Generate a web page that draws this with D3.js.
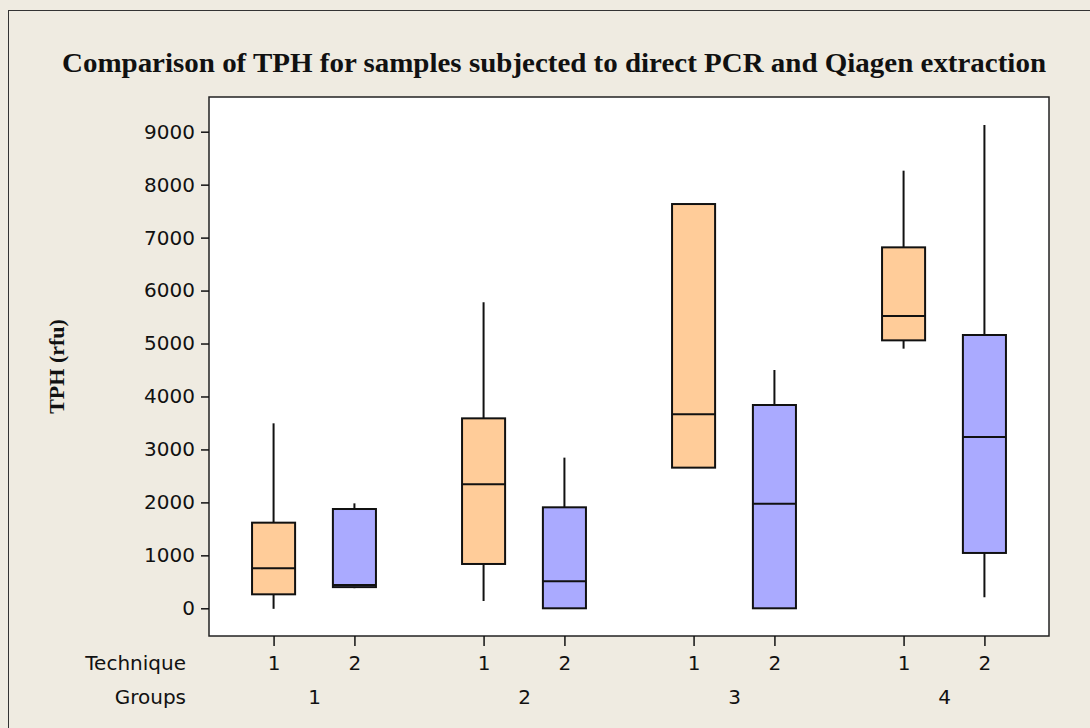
<!doctype html>
<html>
<head>
<meta charset="utf-8">
<style>
body { margin:0; background:#efebe1; }
svg { display:block; }
.tick text { font-family:"DejaVu Sans", Verdana, sans-serif; font-size:20px; fill:#111; }
.rowlab { font-family:"DejaVu Sans", Verdana, sans-serif; font-size:20px; fill:#111; }
</style>
<script src="https://d3js.org/d3.v7.min.js"></script>
</head>
<body>
<script>

// box statistics, one entry per group/technique pair
var groups      = [1, 1, 2, 2, 3, 3, 4, 4];
var techniques  = [1, 2, 1, 2, 1, 2, 1, 2];
var whiskerLow  = [-10, 380, 138, 0, 2656, 0, 4903, 208];
var q1          = [264, 400, 837, 0, 2656, 0, 5060, 1045];
var median      = [755, 440, 2341, 510, 3663, 1976, 5520, 3235];
var q3          = [1617, 1875, 3587, 1907, 7634, 3839, 6816, 5161];
var whiskerHigh = [3493, 1982, 5778, 2845, 7634, 4500, 8264, 9126];

var groupLabels = ["1", "2", "3", "4"];
var yTicks = [0, 1000, 2000, 3000, 4000, 5000, 6000, 7000, 8000, 9000];

var svgWidth = 1090, svgHeight = 728;
// plot frame edges (don't call these top/left: window.top is taken)
var plotL = 209, plotR = 1049, plotT = 97, plotB = 636;
var offset = 0.1925, halfBox = 0.1025;

var svg = d3.select("body").append("svg")
    .attr("width", svgWidth)
    .attr("height", svgHeight);

// outer border (runs off the right and bottom edge like the picture)
svg.append("rect")
    .attr("x", 8.5).attr("y", 10.5)
    .attr("width", 1200).attr("height", 900)
    .attr("fill", "#efebe1")
    .attr("stroke", "#333").attr("stroke-width", 1);

// plot area
svg.append("rect")
    .attr("x", plotL).attr("y", plotT)
    .attr("width", plotR - plotL).attr("height", plotB - plotT)
    .attr("fill", "#fff")
    .attr("stroke", "#222").attr("stroke-width", 1.5);

var x = d3.scaleLinear().domain([0.5, 4.5]).range([plotL, plotR]);
var y = d3.scaleLinear().domain([0, 9000]).range([608.3, 131.7]);

function pos(i) {
   return groups[i] + (techniques[i] == 1 ? -offset : offset);
}

// title
svg.append("text")
    .attr("x", 62).attr("y", 72)
    .attr("textLength", 984)
    .attr("lengthAdjust", "spacingAndGlyphs")
    .style("font-family", "'Liberation Serif', 'Times New Roman', serif")
    .style("font-weight", "bold")
    .style("font-size", "27px")
    .attr("fill", "#111")
    .text("Comparison of TPH for samples subjected to direct PCR and Qiagen extraction");

// y axis label
svg.append("text")
    .attr("transform", "translate(64," + ((plotT + plotB) / 2) + ") rotate(-90)")
    .attr("text-anchor", "middle")
    .style("font-family", "'Liberation Serif', 'Times New Roman', serif")
    .style("font-weight", "bold")
    .style("font-size", "22px")
    .attr("fill", "#111")
    .text("TPH (rfu)");

// y axis
var yAxis = svg.append("g")
    .attr("transform", "translate(" + plotL + ",0)")
    .call(d3.axisLeft(y).tickValues(yTicks).tickFormat(d3.format("d"))
        .tickSize(8).tickSizeOuter(0).tickPadding(6));
yAxis.select(".domain").remove();
yAxis.selectAll(".tick line").attr("stroke", "#111").attr("stroke-width", 1.5);

// technique axis
var idx = d3.range(groups.length);
var tAxis = svg.append("g")
    .attr("transform", "translate(0," + plotB + ")")
    .call(d3.axisBottom(x)
        .tickValues(idx.map(pos))
        .tickFormat(function (d, i) { return techniques[i]; })
        .tickSize(10).tickSizeOuter(0).tickPadding(10));
tAxis.select(".domain").remove();
tAxis.selectAll(".tick line").attr("stroke", "#111").attr("stroke-width", 1.5);

// group axis
var gAxis = svg.append("g")
    .attr("transform", "translate(0," + (plotB + 54) + ")")
    .call(d3.axisBottom(x)
        .tickValues([1, 2, 3, 4])
        .tickFormat(function (d, i) { return groupLabels[i]; })
        .tickSize(0).tickPadding(0));
gAxis.select(".domain").remove();

svg.append("text").attr("class", "rowlab")
    .attr("x", 186).attr("y", 670).attr("text-anchor", "end").text("Technique");
svg.append("text").attr("class", "rowlab")
    .attr("x", 186).attr("y", 704).attr("text-anchor", "end").text("Groups");

// boxes
var box = svg.selectAll("g.box")
    .data(idx)
    .enter()
    .append("g")
    .attr("class", "box");

box.append("line")
    .attr("x1", function (i) { return x(pos(i)); })
    .attr("x2", function (i) { return x(pos(i)); })
    .attr("y1", function (i) { return y(whiskerLow[i]); })
    .attr("y2", function (i) { return y(whiskerHigh[i]); })
    .attr("stroke", "#111").attr("stroke-width", 2);

box.append("rect")
    .attr("x", function (i) { return x(pos(i) - halfBox); })
    .attr("width", function (i) { return x(pos(i) + halfBox) - x(pos(i) - halfBox); })
    .attr("y", function (i) { return y(q3[i]); })
    .attr("height", function (i) { return y(q1[i]) - y(q3[i]); })
    .attr("fill", function (i) { return techniques[i] == 1 ? "#ffcc99" : "#aaaaff"; })
    .attr("stroke", "#111").attr("stroke-width", 2);

box.append("line")
    .attr("x1", function (i) { return x(pos(i) - halfBox); })
    .attr("x2", function (i) { return x(pos(i) + halfBox); })
    .attr("y1", function (i) { return y(median[i]); })
    .attr("y2", function (i) { return y(median[i]); })
    .attr("stroke", "#111").attr("stroke-width", 2);

</script>
</body>
</html>
